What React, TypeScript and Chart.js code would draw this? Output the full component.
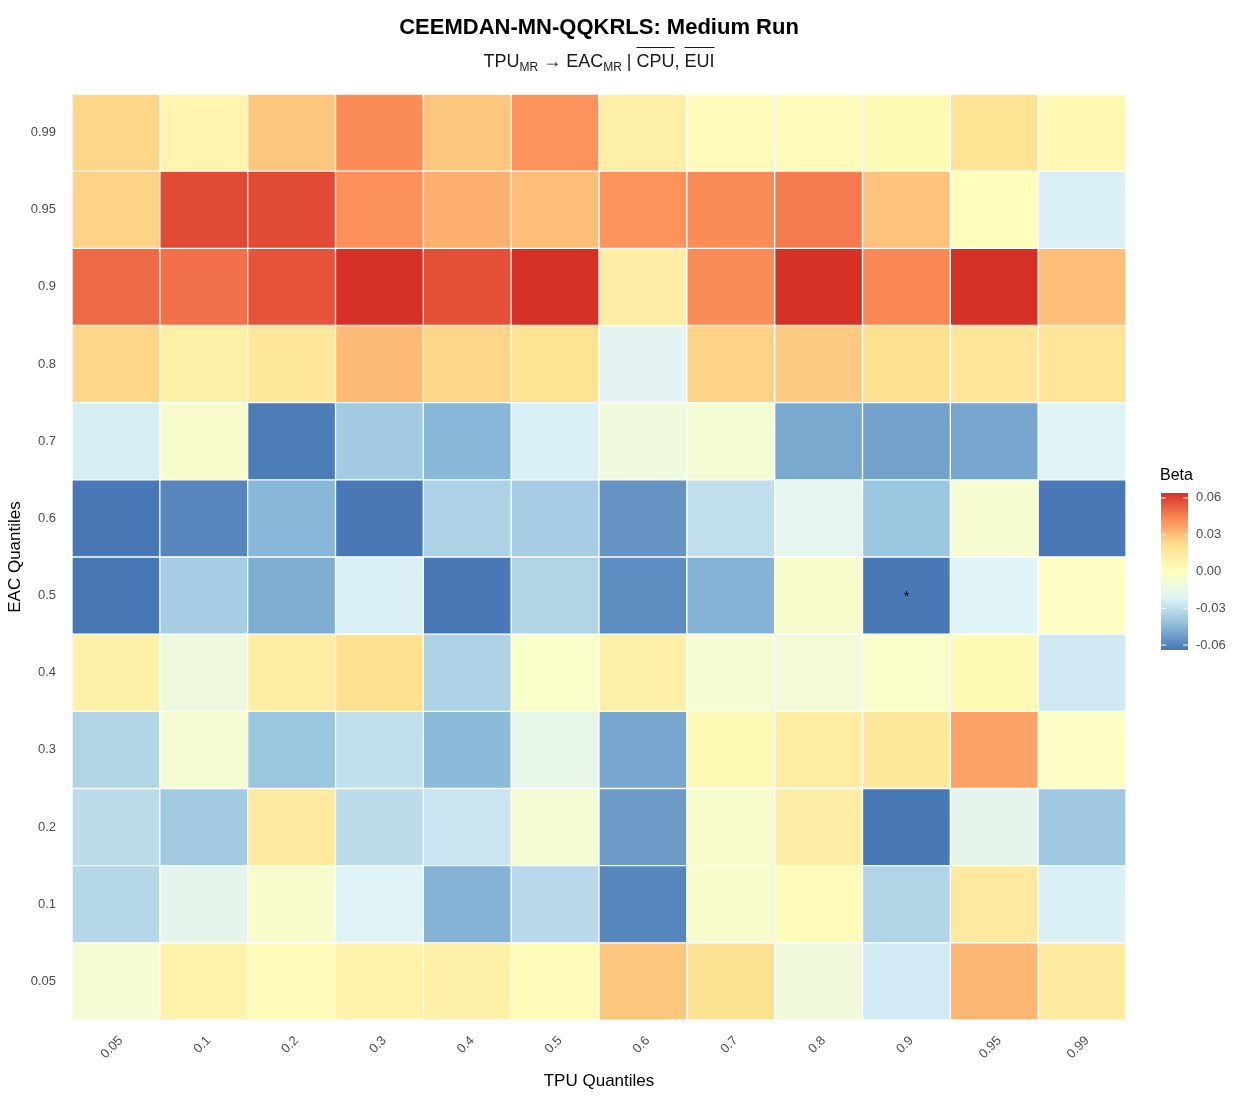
import React, { useEffect, useRef } from 'react';
import { Chart, registerables } from 'chart.js';

Chart.register(...registerables);

// TPU quantiles (columns, x axis)
const xLabels = ['0.05', '0.1', '0.2', '0.3', '0.4', '0.5', '0.6', '0.7', '0.8', '0.9', '0.95', '0.99'];
// EAC quantiles (rows, y axis, bottom to top)
const yLabels = ['0.05', '0.1', '0.2', '0.3', '0.4', '0.5', '0.6', '0.7', '0.8', '0.9', '0.95', '0.99'];

// Beta estimates per EAC quantile row, listed across TPU quantile columns
const beta_eac_005 = [-0.007, 0.009, 0.003, 0.009, 0.011, 0.003, 0.028, 0.02, -0.01, -0.025, 0.032, 0.014];
const beta_eac_010 = [-0.033, -0.017, -0.005, -0.021, -0.046, -0.032, -0.059, -0.005, 0.002, -0.034, 0.015, -0.023];
const beta_eac_020 = [-0.031, -0.038, 0.015, -0.031, -0.027, -0.007, -0.053, -0.005, 0.012, -0.063, -0.017, -0.039];
const beta_eac_030 = [-0.034, -0.007, -0.040, -0.030, -0.044, -0.016, -0.050, 0.004, 0.013, 0.016, 0.037, -0.002];
const beta_eac_040 = [0.010, -0.012, 0.013, 0.021, -0.035, -0.004, 0.011, -0.007, -0.009, -0.004, 0.004, -0.026];
const beta_eac_050 = [-0.063, -0.037, -0.048, -0.023, -0.063, -0.034, -0.057, -0.046, -0.005, -0.063, -0.021, -0.002];
const beta_eac_060 = [-0.063, -0.059, -0.045, -0.063, -0.035, -0.037, -0.055, -0.030, -0.018, -0.040, -0.006, -0.063];
const beta_eac_070 = [-0.024, -0.005, -0.062, -0.038, -0.045, -0.023, -0.011, -0.008, -0.049, -0.051, -0.050, -0.021];
const beta_eac_080 = [0.024, 0.011, 0.016, 0.031, 0.024, 0.019, -0.019, 0.025, 0.027, 0.021, 0.017, 0.018];
const beta_eac_090 = [0.051, 0.049, 0.056, 0.064, 0.057, 0.064, 0.012, 0.043, 0.064, 0.044, 0.064, 0.030];
const beta_eac_095 = [0.025, 0.058, 0.058, 0.042, 0.034, 0.030, 0.041, 0.043, 0.047, 0.029, 0.001, -0.023];
const beta_eac_099 = [0.024, 0.007, 0.028, 0.043, 0.028, 0.041, 0.011, 0.002, 0.002, 0.004, 0.019, 0.005];

const betaRows = [
  beta_eac_005, beta_eac_010, beta_eac_020, beta_eac_030, beta_eac_040, beta_eac_050,
  beta_eac_060, beta_eac_070, beta_eac_080, beta_eac_090, beta_eac_095, beta_eac_099,
];

// significant cells (marked with an asterisk)
const sigX = ['0.9'];
const sigY = ['0.5'];

// colour bar
const legendTicks = [0.06, 0.03, 0.0, -0.03, -0.06];
const legendTickLabels = ['0.06', '0.03', '0.00', '-0.03', '-0.06'];
const betaMin = -0.064;
const betaMax = 0.064;
const palette = ['#4575b4', '#91bfdb', '#e0f3f8', '#ffffbf', '#fee090', '#fc8d59', '#d73027'];

const FONT = "'Liberation Sans', Arial, Helvetica, sans-serif";

function hexToRgb(h: string): number[] {
  const n = parseInt(h.slice(1), 16);
  return [(n >> 16) & 255, (n >> 8) & 255, n & 255];
}
const paletteRgb = palette.map(hexToRgb);

function colorFor(v: number): string {
  let t = (v - betaMin) / (betaMax - betaMin);
  t = Math.max(0, Math.min(1, t));
  const pos = t * (paletteRgb.length - 1);
  const i = Math.min(paletteRgb.length - 2, Math.floor(pos));
  const f = pos - i;
  const a = paletteRgb[i];
  const b = paletteRgb[i + 1];
  const c = a.map((x, k) => Math.round(x + (b[k] - x) * f));
  return `rgb(${c[0]},${c[1]},${c[2]})`;
}

const decorPlugin = {
  id: 'decor',
  afterDraw(chart: any) {
    const ctx = chart.ctx as CanvasRenderingContext2D;
    const area = chart.chartArea;
    const cx = (area.left + area.right) / 2;
    const cy = (area.top + area.bottom) / 2;
    ctx.save();

    // Title
    ctx.fillStyle = '#000000';
    ctx.textAlign = 'center';
    ctx.textBaseline = 'alphabetic';
    ctx.font = `bold 22px ${FONT}`;
    ctx.fillText('CEEMDAN-MN-QQKRLS: Medium Run', cx, 34);

    // Subtitle with subscripts and overlines
    const segs = [
      { t: 'TPU' }, { t: 'MR', sub: true }, { t: ' \u2192 EAC' }, { t: 'MR', sub: true },
      { t: ' | ' }, { t: 'CPU', over: true }, { t: ', ' }, { t: 'EUI', over: true },
    ] as { t: string; sub?: boolean; over?: boolean }[];
    const mainFont = `18px ${FONT}`;
    const subFont = `12px ${FONT}`;
    let total = 0;
    const widths = segs.map((s) => {
      ctx.font = s.sub ? subFont : mainFont;
      const w = ctx.measureText(s.t).width;
      total += w;
      return w;
    });
    let x = cx - total / 2;
    const base = 67;
    ctx.textAlign = 'left';
    ctx.fillStyle = '#1a1a1a';
    segs.forEach((s, i) => {
      ctx.font = s.sub ? subFont : mainFont;
      ctx.fillText(s.t, x, s.sub ? base + 4 : base);
      if (s.over) {
        ctx.strokeStyle = '#1a1a1a';
        ctx.lineWidth = 1;
        ctx.beginPath();
        ctx.moveTo(x, 47.5);
        ctx.lineTo(x + widths[i], 47.5);
        ctx.stroke();
      }
      x += widths[i];
    });

    // Axis titles
    ctx.fillStyle = '#000000';
    ctx.font = `17px ${FONT}`;
    ctx.textAlign = 'center';
    ctx.textBaseline = 'middle';
    ctx.fillText('TPU Quantiles', cx, 1081);
    ctx.save();
    ctx.translate(15, cy);
    ctx.rotate(-Math.PI / 2);
    ctx.fillText('EAC Quantiles', 0, 0);
    ctx.restore();

    // Significance asterisks
    const xs = chart.scales.x;
    const ys = chart.scales.y;
    ctx.fillStyle = '#000000';
    ctx.font = `14px ${FONT}`;
    sigX.forEach((sx, k) => {
      const xi = xLabels.indexOf(sx);
      const yi = yLabels.indexOf(sigY[k]);
      const px = xs.getPixelForValue(xi);
      const py = ys.getPixelForValue(yi + 0.5);
      ctx.fillText('*', px, py + 2);
    });

    // Colour bar legend
    const barL = 1161;
    const barW = 27;
    const barT = 493;
    const barB = 650;
    const grad = ctx.createLinearGradient(0, barB, 0, barT);
    palette.forEach((c, i) => grad.addColorStop(i / (palette.length - 1), c));
    ctx.fillStyle = grad;
    ctx.fillRect(barL, barT, barW, barB - barT);
    ctx.fillStyle = '#000000';
    ctx.font = `16px ${FONT}`;
    ctx.textAlign = 'left';
    ctx.fillText('Beta', 1160, 476);
    ctx.font = `13px ${FONT}`;
    ctx.fillStyle = '#4d4d4d';
    legendTicks.forEach((v, i) => {
      const py = barT + ((betaMax - v) / (betaMax - betaMin)) * (barB - barT);
      ctx.strokeStyle = '#ffffff';
      ctx.lineWidth = 1;
      ctx.beginPath();
      ctx.moveTo(barL, py);
      ctx.lineTo(barL + 5, py);
      ctx.moveTo(barL + barW - 5, py);
      ctx.lineTo(barL + barW, py);
      ctx.stroke();
      ctx.fillText(legendTickLabels[i], 1196, py);
    });

    ctx.restore();
  },
};

export default function App() {
  const canvasRef = useRef<HTMLCanvasElement | null>(null);

  useEffect(() => {
    if (!canvasRef.current) return;
    const chart = new Chart(canvasRef.current, {
      type: 'bar',
      data: {
        labels: xLabels,
        datasets: betaRows.map((row, i) => ({
          label: yLabels[i],
          data: row.map(() => 1),
          backgroundColor: row.map(colorFor),
          borderColor: '#ffffff',
          borderWidth: 1,
          borderSkipped: false,
          barPercentage: 1,
          categoryPercentage: 1,
        })),
      },
      options: {
        animation: false,
        responsive: true,
        maintainAspectRatio: false,
        layout: { padding: { left: 0, top: 94, right: 107, bottom: 0 } },
        plugins: {
          legend: { display: false },
          tooltip: { enabled: false },
          title: { display: false },
        },
        scales: {
          x: {
            stacked: true,
            grid: { display: false, drawTicks: false },
            border: { display: false },
            ticks: {
              minRotation: 45,
              maxRotation: 45,
              padding: 13,
              labelOffset: 5,
              color: '#4d4d4d',
              font: { family: FONT, size: 13 },
            },
            afterFit: (s: any) => {
              s.height = 80;
            },
          },
          y: {
            stacked: true,
            min: 0,
            max: 12,
            grid: { display: false, drawTicks: false },
            border: { display: false },
            afterBuildTicks: (s: any) => {
              s.ticks = yLabels.map((_, i) => ({ value: i + 0.5 }));
            },
            ticks: {
              padding: 16,
              color: '#4d4d4d',
              font: { family: FONT, size: 13 },
              callback: (v: any) => yLabels[Math.round(Number(v) - 0.5)],
            },
            afterFit: (s: any) => {
              s.width = 72;
            },
          },
        },
      },
      plugins: [decorPlugin],
    });
    return () => chart.destroy();
  }, []);

  return (
    <div style={{ position: 'absolute', left: 0, top: 0, width: 1233, height: 1100, background: '#ffffff' }}>
      <canvas ref={canvasRef} />
    </div>
  );
}
